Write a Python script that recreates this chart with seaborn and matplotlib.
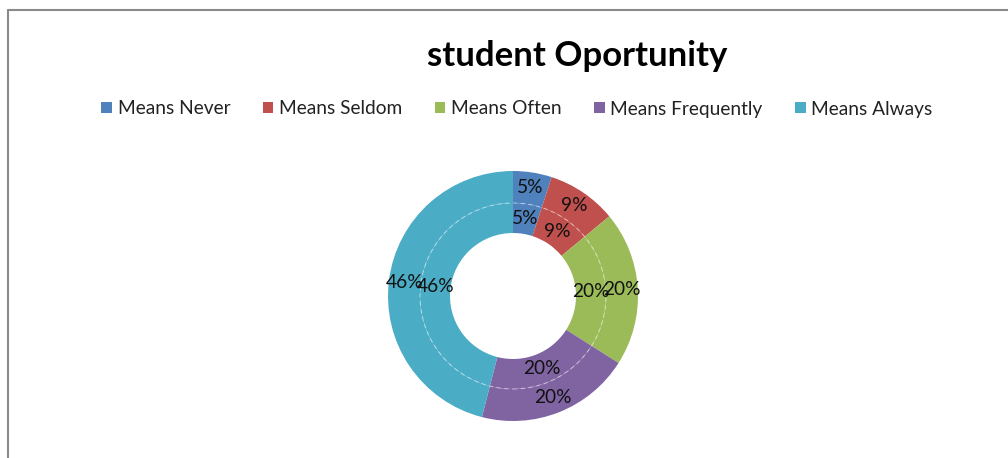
import matplotlib
matplotlib.use('Agg')
import matplotlib.pyplot as plt
import seaborn as sns
from matplotlib.patches import Patch, Circle
from matplotlib.lines import Line2D

# chart data
categories = ['Means Never', 'Means Seldom', 'Means Often', 'Means Frequently', 'Means Always']
outer_values = [5, 9, 20, 20, 46]
inner_values = [5, 9, 20, 20, 46]
colors = ['#4F81BD', '#C0504D', '#9BBB59', '#8064A2', '#4BACC6']
title = 'student Oportunity'

sns.set_style('white')
plt.rcParams['font.family'] = ['Lato', 'DejaVu Sans']

W, H = 1008, 458
fig = plt.figure(figsize=(W / 100, H / 100), dpi=100)

# donut axes: centre (513, 296) px, radius 125 px
cx, cy, r = 513, 296, 125
ax = fig.add_axes([(cx - r) / W, (H - cy - r) / H, 2 * r / W, 2 * r / H])

outer_r = 1.0
mid_r = 93 / 125
hole_r = 63 / 125

wedges, _, outer_txt = ax.pie(outer_values, radius=outer_r, colors=colors, startangle=90,
                              counterclock=False, autopct='%1.0f%%', pctdistance=0.875,
                              wedgeprops=dict(width=outer_r - mid_r, linewidth=0),
                              textprops=dict(fontsize=13.8, color='#111111'))
wedges2, _, inner_txt = ax.pie(inner_values, radius=mid_r, colors=colors, startangle=90,
                               counterclock=False, autopct='%1.0f%%', pctdistance=0.84,
                               wedgeprops=dict(width=mid_r - hole_r, linewidth=0),
                               textprops=dict(fontsize=13.8, color='#111111'))
ax.add_patch(Circle((0, 0), mid_r, fill=False, edgecolor='white', linewidth=0.8,
                    linestyle=(0, (4, 3)), alpha=0.45))
ax.set_xlim(-1, 1)
ax.set_ylim(-1, 1)
ax.axis('off')

# title
fig.text(577 / W, 1 - 56 / H, title, ha='center', va='center', fontsize=25,
         fontweight='bold', color='black')

# legend
handles = [Patch(facecolor=c, edgecolor='none', label=lab) for c, lab in zip(colors, categories)]
fig.legend(handles=handles, loc='center', bbox_to_anchor=(517 / W, 1 - 109 / H), ncol=5,
           frameon=False, fontsize=13.75, handlelength=0.55, handleheight=0.55,
           handletextpad=0.3, columnspacing=1.7, labelcolor='#222222')

# chart frame (top and left edges visible)
fig.add_artist(Line2D([8 / W, 8 / W], [0, 1 - 10 / H], transform=fig.transFigure,
                      color='#8a8a8a', linewidth=1.5))
fig.add_artist(Line2D([8 / W, 1], [1 - 10 / H, 1 - 10 / H], transform=fig.transFigure,
                      color='#8a8a8a', linewidth=1.5))

fig.savefig('out.png', dpi=100, facecolor='white')
